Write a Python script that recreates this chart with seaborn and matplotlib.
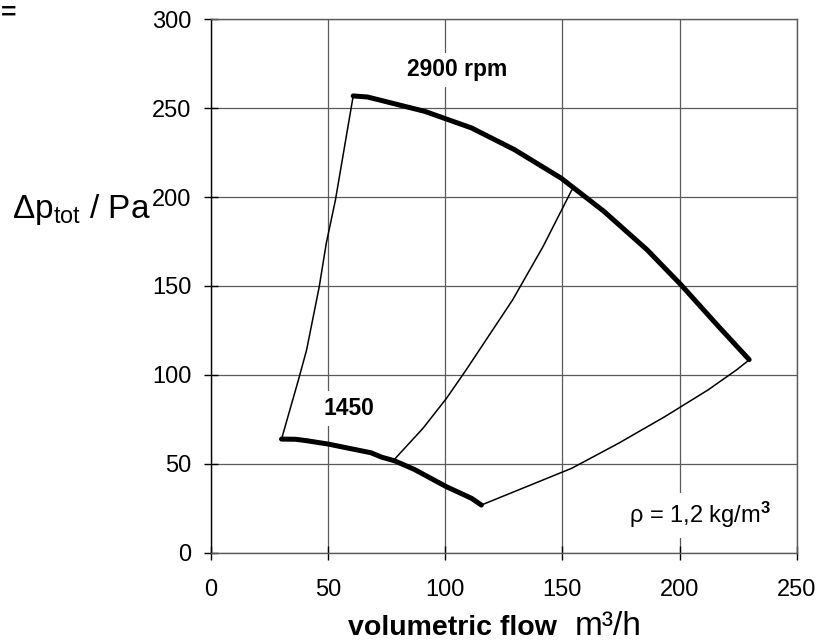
import matplotlib
matplotlib.use("Agg")
import matplotlib.pyplot as plt
import seaborn as sns
import pandas as pd

# ---- data ----
q_2900 = [60.7, 66.8, 91.3, 111.2, 129.5, 149.4, 167.7, 186.1, 200.6, 216.6, 229.7]
p_2900 = [256.9, 256.3, 248.2, 238.9, 226.7, 210.7, 192.0, 170.4, 150.7, 127.3, 108.6]

q_1450 = [30.1, 36.2, 40.8, 50.0, 68.3, 72.9, 78.3, 86.7, 100.5, 111.2, 115.4]
p_1450 = [63.9, 63.8, 63.0, 61.1, 56.2, 53.7, 51.7, 46.9, 37.1, 30.6, 26.8]

q_left = [30.1, 37.3, 40.8, 46.2, 49.2, 53.1, 60.7]
p_left = [63.9, 97.1, 114.0, 149.6, 174.0, 198.3, 256.9]

q_mid = [78.3, 90.5, 100.5, 108.9, 128.7, 141.7, 154.0, 155.0]
p_mid = [52.5, 70.0, 86.8, 102.8, 142.1, 172.1, 204.0, 206.0]

q_right = [115.4, 154.0, 173.9, 193.7, 212.1, 224.3, 229.7]
p_right = [26.8, 47.5, 61.5, 76.5, 91.5, 102.8, 108.4]

x_ticks = [0, 50, 100, 150, 200, 250]
y_ticks = [0, 50, 100, 150, 200, 250, 300]

label_2900 = "2900 rpm"
label_1450 = "1450"

# ---- styling ----
sns.set_theme(style="white")
plt.rcParams["font.family"] = ["Liberation Sans", "DejaVu Sans"]
plt.rcParams["mathtext.fontset"] = "custom"
plt.rcParams["mathtext.rm"] = "Liberation Sans"
plt.rcParams["mathtext.it"] = "Liberation Sans"
plt.rcParams["mathtext.bf"] = "Liberation Sans:bold"
plt.rcParams["mathtext.default"] = "regular"

fig = plt.figure(figsize=(8.18, 6.43), dpi=100)
ax = fig.add_axes([211 / 818, 1 - 552.7 / 643, (796.7 - 211) / 818, (552.7 - 19.3) / 643])

def df(q, p):
    return pd.DataFrame({"q": q, "p": p})

thin = dict(color="black", linewidth=1.1, sort=False, estimator=None, ax=ax)
thick = dict(color="black", linewidth=3.6, sort=False, estimator=None, ax=ax,
             solid_capstyle="round", solid_joinstyle="round")

sns.lineplot(data=df(q_left, p_left), x="q", y="p", **thin)
sns.lineplot(data=df(q_mid, p_mid), x="q", y="p", **thin)
sns.lineplot(data=df(q_right, p_right), x="q", y="p", **thin)
sns.lineplot(data=df(q_2900, p_2900), x="q", y="p", **thick)
sns.lineplot(data=df(q_1450, p_1450), x="q", y="p", **thick)

ax.set_xlim(x_ticks[0], x_ticks[-1])
ax.set_ylim(y_ticks[0], y_ticks[-1])
ax.set_xticks(x_ticks)
ax.set_yticks(y_ticks)
ax.set_xlabel("")
ax.set_ylabel("")
ax.set_axisbelow(True)
ax.grid(True, color="#5a5a5a", linewidth=0.9)
for name, sp in ax.spines.items():
    sp.set_visible(True)
    sp.set_color("#5a5a5a")
    sp.set_linewidth(1.0)
ax.spines["left"].set_color("black")
ax.tick_params(axis="both", direction="inout", length=10, width=1, color="black",
               labelsize=17, labelcolor="black", bottom=True, left=True)
ax.tick_params(axis="x", pad=14)
ax.tick_params(axis="y", pad=9)

box = dict(facecolor="white", edgecolor="none", boxstyle="square,pad=0.25")
ax.text(105, 271.5, label_2900, ha="center", va="center", fontsize=16.5,
        fontweight="bold", color="black", bbox=box, zorder=3)
ax.text(58.7, 81, label_1450, ha="center", va="center", fontsize=16.5,
        fontweight="bold", color="black", bbox=box, zorder=3)
ax.text(178.4, 21, r"ρ = 1,2 kg/m$^{\mathbf{3}}$", ha="left", va="center",
        fontsize=17, color="black",
        bbox=dict(facecolor="white", edgecolor="none", boxstyle="square,pad=0.3"),
        zorder=3)

# axis titles placed as in the reference
fig.text(12 / 818, 1 - 218 / 643, r"Δp$_{tot}$ / Pa", ha="left", va="baseline",
         fontsize=24, color="black")
fig.text(348 / 818, 1 - 635 / 643, "volumetric flow", ha="left", va="baseline",
         fontsize=20.5, fontweight="bold", color="black")
fig.text(575 / 818, 1 - 635 / 643, "m³/h", ha="left", va="baseline",
         fontsize=24, color="black")
fig.text(1 / 818, 1 - 1 / 643, "=", ha="left", va="top", fontsize=19,
         fontweight="bold", color="black")

fig.savefig("out.png", dpi=100)
